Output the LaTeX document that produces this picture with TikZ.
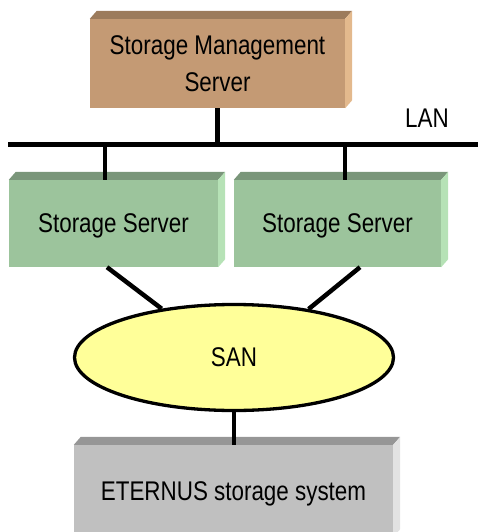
\documentclass[tikz,border=0pt]{standalone}
\usepackage{fontspec}
\setmainfont[FakeStretch=0.83]{Liberation Sans}
\usetikzlibrary{shapes.geometric,calc}
\definecolor{mgF}{HTML}{C49A74}
\definecolor{mgT}{HTML}{9C7B5C}
\definecolor{mgR}{HTML}{E3B98D}
\definecolor{svF}{HTML}{9CC49C}
\definecolor{svT}{HTML}{7A967A}
\definecolor{svR}{HTML}{B6E2B6}
\definecolor{stF}{HTML}{C0C0C0}
\definecolor{stT}{HTML}{969696}
\definecolor{stR}{HTML}{E2E2E2}
\definecolor{sanF}{HTML}{FFFF99}
\newcommand\boxfaces[3]{%
  \fill[#2] (#1.north west) -- ++(7,-8) -- ($(#1.north east)+(7,-8)$) -- (#1.north east) -- cycle;
  \fill[#3] (#1.north east) -- ++(7,-8) -- ($(#1.south east)+(7,-8)$) -- (#1.south east) -- cycle;}
\begin{document}
\begin{tikzpicture}[x=1pt,y=-1pt,
  box/.style={rectangle, inner sep=0pt, font=\fontsize{27}{37}\selectfont, align=center},
  lbl/.style={inner sep=0pt, font=\fontsize{27}{30}\selectfont},
  conn/.style={line width=4.5pt},
  ]
\useasboundingbox (0,0) rectangle (481,532);
\node[box, fill=mgF, minimum width=255pt, minimum height=89pt] (mgmt) at (217.5,63.5) {Storage Management\\Server};
\node[box, fill=svF, minimum width=209pt, minimum height=87pt, text depth=0pt] (s1) at (113.5,223.5) {Storage Server};
\node[box, fill=svF, minimum width=207pt, minimum height=87pt, text depth=0pt] (s2) at (337.5,223.5) {Storage Server};
\node[box, fill=stF, minimum width=319pt, minimum height=92pt, text depth=0pt] (st) at (233.5,491) {ETERNUS storage system};
\boxfaces{mgmt}{mgT}{mgR}
\boxfaces{s1}{svT}{svR}
\boxfaces{s2}{svT}{svR}
\boxfaces{st}{stT}{stR}
\node[ellipse, draw, line width=3.3pt, fill=sanF, minimum width=319pt, minimum height=106pt, inner sep=0pt, font=\fontsize{27}{30}\selectfont, text depth=0pt] (san) at (234,357.5) {SAN};
\coordinate (lanL) at (8,144.5);
\coordinate (lanR) at (478,144.5);
\node[lbl, anchor=base west] (lan) at (405,127) {LAN};
\draw[conn] (lanL) -- (lanR);
\draw[conn] (mgmt.south) -- (mgmt.south |- lanL);
\draw[conn] ([xshift=-8.5pt]s1.north |- lanL) -- ([xshift=-8.5pt]s1.north);
\draw[conn] ([xshift=7.5pt]s2.north |- lanL) -- ([xshift=7.5pt]s2.north);
\draw[conn] ([xshift=-6.5pt]s1.south) -- (san.146);
\draw[conn] ([xshift=22.5pt]s2.south) -- (san.33);
\draw[conn] (san.south) -- (san.south |- st.north);
\end{tikzpicture}
\end{document}
